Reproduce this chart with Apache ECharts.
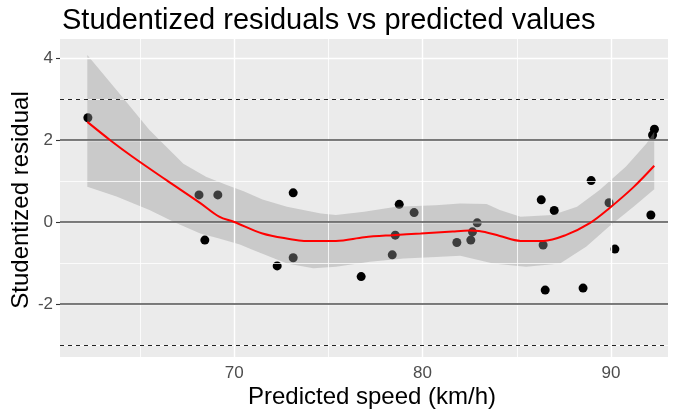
<!DOCTYPE html>
<html>
<head>
<meta charset="utf-8">
<script src="https://cdn.jsdelivr.net/npm/echarts@6/dist/echarts.min.js"></script>
<style>
html,body{margin:0;padding:0;background:#fff;}
#c{width:673px;height:414px;}
</style>
</head>
<body>
<div id="c"></div>
<script>
// ---- data ----
const pointX = [62.23, 68.13, 68.44, 69.13, 72.28, 73.13, 73.13, 76.74, 78.39, 78.55, 78.76, 79.55, 81.82, 82.56, 82.65, 82.90, 86.30, 86.40, 86.51, 86.99, 88.52, 88.95, 89.90, 90.21, 92.12, 92.21, 92.31];
const pointY = [2.54, 0.66, -0.44, 0.66, -1.07, -0.87, 0.71, -1.33, -0.80, -0.32, 0.43, 0.23, -0.50, -0.44, -0.24, -0.02, 0.54, -0.56, -1.66, 0.28, -1.61, 1.01, 0.47, -0.66, 0.17, 2.12, 2.26];

const smoothX = [62.2, 63.4, 64.6, 66.4, 68.2, 69.2, 70.0, 71.5, 73.0, 73.7, 75.4, 76.9, 78.4, 79.9, 81.6, 82.5, 83.0, 84.1, 85.2, 86.4, 87.6, 88.9, 89.9, 91.2, 92.3];
const smoothY = [2.44, 2.0, 1.59, 1.02, 0.46, 0.13, 0.0, -0.28, -0.42, -0.46, -0.46, -0.37, -0.32, -0.28, -0.23, -0.21, -0.22, -0.34, -0.46, -0.46, -0.32, -0.02, 0.33, 0.85, 1.37];

const upperX = [62.2, 63.75, 65.5, 67.3, 68.5, 69.6, 70.5, 71.5, 72.8, 74.6, 75.4, 76.9, 78.6, 80.7, 82.0, 83.4, 84.1, 85.2, 86.9, 88.2, 89.4, 90.8, 91.9, 92.3];
const upperY = [4.07, 3.22, 2.24, 1.42, 1.1, 0.9, 0.75, 0.55, 0.37, 0.21, 0.17, 0.25, 0.37, 0.41, 0.45, 0.44, 0.29, 0.13, 0.17, 0.37, 0.78, 1.35, 1.92, 2.2];
const lowerX = [62.2, 63.75, 65.5, 66.8, 68.2, 69.2, 70.3, 71.0, 72.8, 74.2, 75.4, 77.2, 79.0, 80.7, 82.0, 83.75, 85.5, 87.3, 88.7, 89.9, 91.2, 92.3];
const lowerY = [0.86, 0.62, 0.29, 0.0, -0.28, -0.4, -0.55, -0.68, -1.01, -1.13, -1.09, -0.97, -0.89, -0.85, -0.82, -1.01, -1.09, -1.01, -0.6, -0.11, 0.37, 0.8];

const xTicks = [70, 80, 90];
const yTicks = [-2, 0, 2, 4];
const xMinorGrid = [65, 75, 85];
const yMinorGrid = [-3, -1, 1, 3];
const refSolid = [-2, 0, 2];
const refDashed = [-3, 3];

const xRange = [60.75, 93.03];
const yRange = [-3.29, 4.46];

const titleText = 'Studentized residuals vs predicted values';
const xTitle = 'Predicted speed (km/h)';
const yTitle = 'Studentized residual';

// ---- chart ----
const FONT = '"Liberation Sans", Arial, sans-serif';
const chart = echarts.init(document.getElementById('c'), null, {renderer: 'canvas'});

const gridLines = [];
xTicks.forEach(v => gridLines.push({xAxis: v, lineStyle: {color: '#fff', width: 1.4, type: 'solid'}}));
xMinorGrid.forEach(v => gridLines.push({xAxis: v, lineStyle: {color: '#fff', width: 0.8, type: 'solid'}}));
yTicks.forEach(v => gridLines.push({yAxis: v, lineStyle: {color: '#fff', width: 1.4, type: 'solid'}}));
yMinorGrid.forEach(v => gridLines.push({yAxis: v, lineStyle: {color: '#fff', width: 0.8, type: 'solid'}}));

const refLines = [];
refSolid.forEach(v => refLines.push({yAxis: v, lineStyle: {color: '#505050', width: 1.6, type: 'solid'}}));
refDashed.forEach(v => refLines.push({yAxis: v, lineStyle: {color: '#222', width: 1, type: [4, 4]}}));

chart.setOption({
  animation: false,
  backgroundColor: '#ffffff',
  textStyle: {fontFamily: FONT},
  title: {
    text: titleText, left: 57, top: 1,
    textStyle: {fontFamily: FONT, fontSize: 29, fontWeight: 'normal', color: '#000'}
  },
  grid: {left: 60, right: 5, top: 39, bottom: 57, show: true, backgroundColor: '#EBEBEB', borderWidth: 0},
  xAxis: {
    type: 'value', min: xRange[0], max: xRange[1],
    axisLine: {show: false},
    splitLine: {show: false},
    axisTick: {show: true, length: 4, lineStyle: {color: '#333', width: 1.1}, customValues: xTicks},
    axisLabel: {customValues: xTicks, fontSize: 17, color: '#4d4d4d', margin: 8, fontFamily: FONT}
  },
  yAxis: {
    type: 'value', min: yRange[0], max: yRange[1],
    axisLine: {show: false},
    splitLine: {show: false},
    axisTick: {show: true, length: 4, lineStyle: {color: '#333', width: 1.1}, customValues: yTicks},
    axisLabel: {customValues: yTicks, fontSize: 17, color: '#4d4d4d', margin: 7, fontFamily: FONT}
  },
  graphic: [
    {type: 'text', x: 372, y: 397, style: {text: xTitle, font: '24px ' + FONT, fill: '#000', align: 'center', verticalAlign: 'middle'}},
    {type: 'text', x: 21.5, y: 200, rotation: Math.PI / 2, style: {text: yTitle, font: '24px ' + FONT, fill: '#000', align: 'center', verticalAlign: 'middle'}}
  ],
  series: [
    {
      type: 'line', data: [], z: 1, silent: true,
      markLine: {silent: true, symbol: 'none', label: {show: false}, animation: false, data: gridLines}
    },
    {
      type: 'scatter', z: 2, symbol: 'circle', symbolSize: 9,
      itemStyle: {color: '#000', opacity: 1},
      data: pointX.map((x, i) => [x, pointY[i]])
    },
    {
      type: 'custom', z: 3, silent: true, clip: true,
      data: [[upperX[0], upperY[0]]],
      encode: {x: 0, y: 1},
      renderItem: function (params, api) {
        const pts = [];
        for (let i = 0; i < upperX.length; i++) pts.push(api.coord([upperX[i], upperY[i]]));
        for (let i = lowerX.length - 1; i >= 0; i--) pts.push(api.coord([lowerX[i], lowerY[i]]));
        return {type: 'polygon', shape: {points: pts}, style: {fill: 'rgba(153,153,153,0.4)', stroke: null}};
      }
    },
    {
      type: 'line', data: [], z: 4, silent: true,
      markLine: {silent: true, symbol: 'none', label: {show: false}, animation: false, data: refLines}
    },
    {
      type: 'line', z: 5, showSymbol: false, smooth: 0.35, silent: true,
      lineStyle: {color: '#FF0000', width: 2},
      data: smoothX.map((x, i) => [x, smoothY[i]])
    }
  ]
});
</script>
</body>
</html>
